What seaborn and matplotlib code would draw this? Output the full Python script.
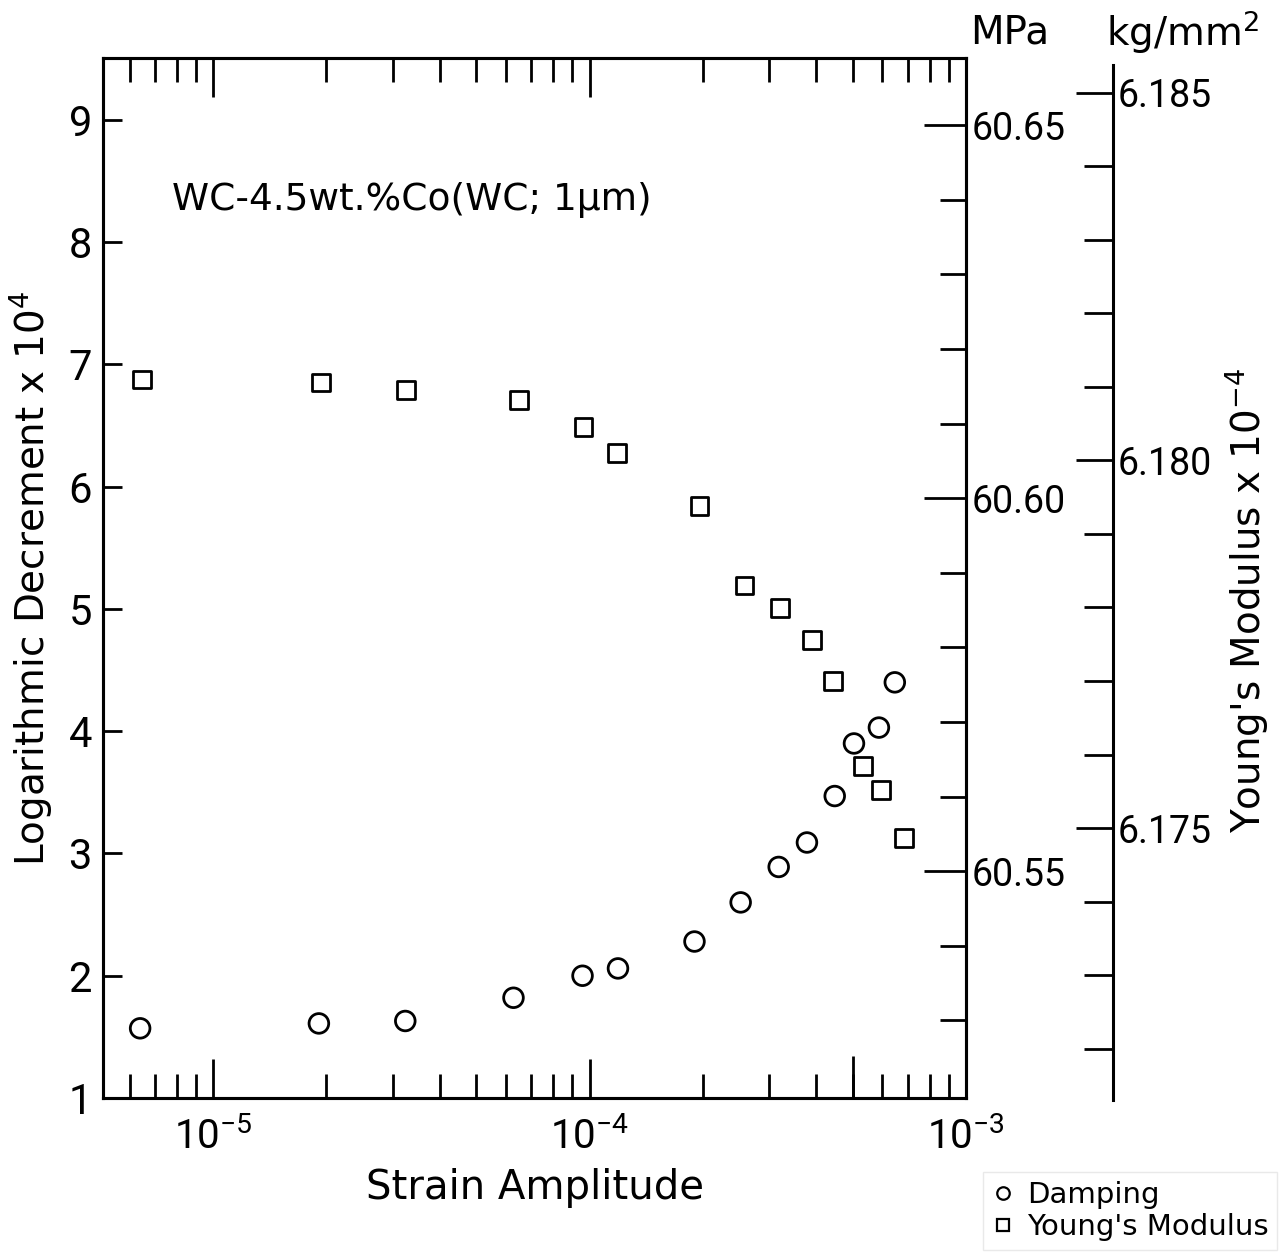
import matplotlib
matplotlib.use("Agg")
import matplotlib.pyplot as plt
import numpy as np
import pandas as pd
import seaborn as sns
from matplotlib.ticker import FixedLocator, FixedFormatter, NullFormatter, FuncFormatter
from matplotlib.lines import Line2D

# Damping (logarithmic decrement x 1e4) vs strain amplitude
damping_strain = [6.4e-6, 1.91e-5, 3.24e-5, 6.28e-5, 9.58e-5, 1.19e-4, 1.90e-4,
                  2.52e-4, 3.18e-4, 3.78e-4, 4.48e-4, 5.04e-4, 5.87e-4, 6.47e-4]
damping_logdec = [1.57, 1.61, 1.63, 1.82, 2.00, 2.06, 2.28,
                  2.60, 2.89, 3.09, 3.47, 3.90, 4.03, 4.40]

# Young's modulus (MPa x 1e-4) vs strain amplitude
modulus_strain = [6.47e-6, 1.93e-5, 3.26e-5, 6.51e-5, 9.64e-5, 1.18e-4, 1.96e-4,
                  2.58e-4, 3.20e-4, 3.89e-4, 4.43e-4, 5.32e-4, 5.94e-4, 6.84e-4]
modulus_mpa = [60.6159, 60.6155, 60.6145, 60.6132, 60.6095, 60.6061, 60.5990,
               60.5883, 60.5853, 60.5810, 60.5755, 60.5641, 60.5609, 60.5544]

x_major = [1e-5, 1e-4, 1e-3]
x_major_labels = [r"$\mathregular{10^{-5}}$", r"$\mathregular{10^{-4}}$", r"$\mathregular{10^{-3}}$"]
x_half_decade = [5e-4]
left_ticks = [1, 2, 3, 4, 5, 6, 7, 8, 9]
mpa_major = [60.55, 60.60, 60.65]
mpa_minor = [60.53, 60.54, 60.56, 60.57, 60.58, 60.59, 60.61, 60.62, 60.63, 60.64]
kg_major = [6.175, 6.180, 6.185]
kg_minor = [6.172, 6.173, 6.174, 6.176, 6.177, 6.178, 6.179, 6.181, 6.182, 6.183, 6.184]

damp_df = pd.DataFrame({"strain": damping_strain, "logdec": damping_logdec})
mod_df = pd.DataFrame({"strain": modulus_strain, "mpa": modulus_mpa})

sns.set_style("ticks")
plt.rcParams["font.family"] = ["DejaVu Sans"]
plt.rcParams["axes.linewidth"] = 2.2
for key in ("text.color", "axes.labelcolor", "xtick.color", "ytick.color", "axes.edgecolor"):
    plt.rcParams[key] = "black"
tick_font = ["Liberation Sans Narrow", "Roboto", "DejaVu Sans"]

W, H = 1287, 1252
fig = plt.figure(figsize=(W / 100, H / 100), dpi=100)
fig.patch.set_facecolor("white")

ax = fig.add_axes([103 / W, 154 / H, 863 / W, 1040 / H])
ax2 = ax.twinx()

sns.scatterplot(data=damp_df, x="strain", y="logdec", ax=ax, marker="o", s=200,
                facecolor="none", edgecolor="black", linewidth=2.0, zorder=3)
sns.scatterplot(data=mod_df, x="strain", y="mpa", ax=ax2, marker="s", s=165,
                facecolor="none", edgecolor="black", linewidth=2.0, zorder=3)

# Strain axis (log)
ax.set_xscale("log")
ax.set_xlim(5.1e-6, 1e-3)
minor_x = [m * 10.0 ** e for e in (-6, -5, -4) for m in range(2, 10)]
ax.xaxis.set_major_locator(FixedLocator(x_major))
ax.xaxis.set_major_formatter(FixedFormatter(x_major_labels))
ax.xaxis.set_minor_locator(FixedLocator(minor_x))
ax.xaxis.set_minor_formatter(NullFormatter())
ax.tick_params(axis="x", which="major", direction="in", length=28, width=2.0,
               top=True, bottom=True, labelsize=29, pad=14, labelfontfamily=tick_font)
ax.tick_params(axis="x", which="minor", direction="in", length=17, width=2.0,
               top=True, bottom=True)

# Longer half-decade tick on the bottom edge
sec = ax.secondary_xaxis("bottom")
sec.xaxis.set_major_locator(FixedLocator(x_half_decade))
sec.xaxis.set_major_formatter(NullFormatter())
sec.xaxis.set_minor_locator(FixedLocator([]))
sec.tick_params(axis="x", which="major", direction="in", length=30, width=2.0)
sec.spines["bottom"].set_visible(False)

# Logarithmic decrement axis
ax.set_ylim(1, 9.507)
ax.yaxis.set_major_locator(FixedLocator(left_ticks))
ax.tick_params(axis="y", which="major", direction="in", length=14, width=2.0,
               left=True, right=False, labelsize=30, pad=8, labelfontfamily=tick_font)
ax.set_xlabel("Strain Amplitude", fontsize=29, labelpad=8)
ax.set_ylabel(r"Logarithmic Decrement x 10$^4$", fontsize=28, labelpad=10)

# MPa axis on the right spine
ax2.set_ylim(60.5196, 60.6590)
ax2.yaxis.set_major_locator(FixedLocator(mpa_major))
ax2.yaxis.set_major_formatter(FuncFormatter(lambda v, p: f"{v:.2f}"))
ax2.yaxis.set_minor_locator(FixedLocator(mpa_minor))
ax2.yaxis.set_minor_formatter(NullFormatter())
ax2.tick_params(axis="y", which="major", direction="in", length=30, width=2.0,
                labelsize=27, pad=4, labelfontfamily=tick_font)
ax2.tick_params(axis="y", which="minor", direction="in", length=19, width=2.0)
ax2.set_ylabel("")
ax2.set_xlabel("")

for a in (ax, ax2):
    for sp in a.spines.values():
        sp.set_linewidth(2.2)
        sp.set_color("black")

# kg/mm2 axis as a free-standing spine
ax3 = fig.add_axes([(1113 - 60) / W, 152 / H, 60 / W, 1035 / H])
ax3.patch.set_visible(False)
for name in ("left", "top", "bottom"):
    ax3.spines[name].set_visible(False)
ax3.spines["right"].set_linewidth(2.2)
ax3.spines["right"].set_color("black")
ax3.xaxis.set_visible(False)
ax3.yaxis.tick_right()
ax3.set_ylim(6.1713, 6.18538)
ax3.yaxis.set_major_locator(FixedLocator(kg_major))
ax3.yaxis.set_major_formatter(FuncFormatter(lambda v, p: f"{v:.3f}"))
ax3.yaxis.set_minor_locator(FixedLocator(kg_minor))
ax3.yaxis.set_minor_formatter(NullFormatter())
ax3.tick_params(axis="y", which="major", direction="in", length=27, width=2.0,
                labelsize=27, pad=3, labelfontfamily=tick_font)
ax3.tick_params(axis="y", which="minor", direction="in", length=21, width=2.0)

# Unit headings and right-hand axis title
fig.text(1010 / W, 1 - 32 / H, "MPa", fontsize=28, ha="center", va="center")
fig.text(1183 / W, 1 - 32 / H, r"kg/mm$^2$", fontsize=28, ha="center", va="center")
fig.text(1247 / W, 1 - 600 / H, r"Young's Modulus x 10$^{-4}$", fontsize=28,
         rotation=90, ha="center", va="center")

# Specimen annotation
ax.text(0.080, 0.863, "WC-4.5wt.%Co(WC; 1μm)", transform=ax.transAxes,
        fontsize=27, ha="left", va="center")

# Marker key
handles = [
    Line2D([], [], marker="o", linestyle="none", markersize=9, markerfacecolor="none",
           markeredgecolor="black", markeredgewidth=1.6),
    Line2D([], [], marker="s", linestyle="none", markersize=8, markerfacecolor="none",
           markeredgecolor="black", markeredgewidth=1.6),
]
leg = fig.legend(handles, ["Damping", "Young's Modulus"], loc="upper left",
                 bbox_to_anchor=(983 / W, 1 - 1172 / H), fontsize=21,
                 frameon=True, fancybox=False, handlelength=0.8, handletextpad=0.4,
                 borderpad=0.3, labelspacing=0.15, borderaxespad=0)
leg.get_frame().set_edgecolor("#e4e4e4")
leg.get_frame().set_linewidth(1.0)

fig.savefig("out.png", dpi=100, facecolor="white")
